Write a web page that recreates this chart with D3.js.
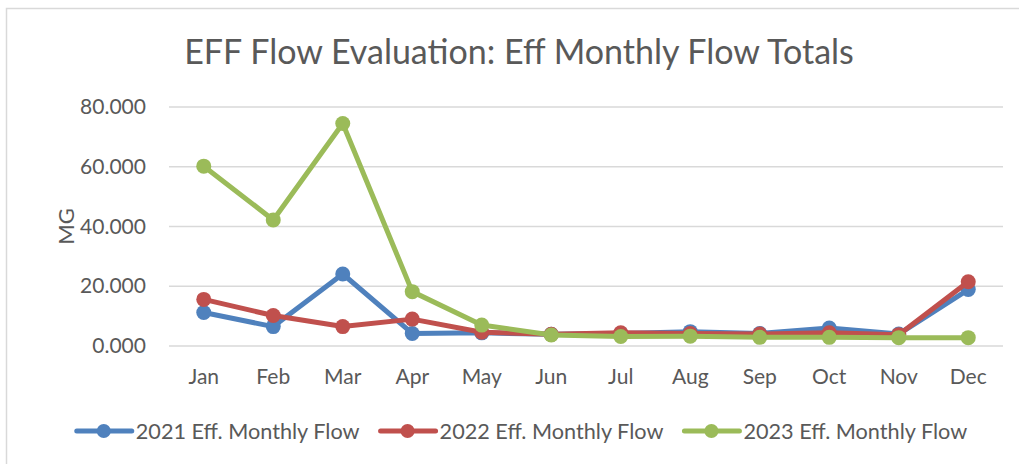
<!DOCTYPE html>
<html lang="en">
<head>
<meta charset="utf-8" />
<title>EFF Flow Evaluation</title>
<script src="https://d3js.org/d3.v7.min.js"></script>
<style>
  body { margin: 0; background: #fff; }
  svg text { font-family: Lato, "Open Sans", sans-serif; fill: #595959; }
</style>
</head>
<body>
<script>
// data
const months = ["Jan", "Feb", "Mar", "Apr", "May", "Jun", "Jul", "Aug", "Sep", "Oct", "Nov", "Dec"];
const flow2021 = [11.2, 6.5, 24.1, 4.2, 4.4, 3.9, 4.2, 4.8, 4.2, 6.0, 4.0, 18.9];
const flow2022 = [15.6, 10.2, 6.5, 9.0, 4.6, 3.9, 4.4, 4.2, 4.0, 4.4, 3.8, 21.5];
const flow2023 = [60.2, 42.2, 74.5, 18.2, 7.0, 3.7, 3.2, 3.3, 2.9, 2.9, 2.8, 2.8];
const yTicks = [0, 20, 40, 60, 80];
const seriesNames = ["2021 Eff. Monthly Flow", "2022 Eff. Monthly Flow", "2023 Eff. Monthly Flow"];
const colours = ["#4F81BD", "#C0504D", "#9BBB59"];

const series = [flow2021, flow2022, flow2023].map((vals, i) => ({
  name: seriesNames[i], colour: colours[i],
  values: vals.map((v, j) => ({ month: months[j], value: v }))
}));

const W = 1019, H = 464;
const margin = { top: 107, right: 16, bottom: 118, left: 169 };

const svg = d3.select("body").append("svg")
  .attr("width", W).attr("height", H);

// chart frame (runs off the right/bottom edge like the reference)
svg.append("rect")
  .attr("x", 6.5).attr("y", 8.5)
  .attr("width", W + 20).attr("height", H + 20)
  .attr("fill", "none").attr("stroke", "#D9D9D9").attr("stroke-width", 1.5);

// size a piece of text so that it spans a given width
function fitSize(str, target) {
  const t = svg.append("text").attr("font-size", 20).text(str);
  const w = t.node().getComputedTextLength();
  t.remove();
  return 20 * target / w;
}

const x = d3.scaleBand().domain(months)
  .range([margin.left, W - margin.right]);
const y = d3.scaleLinear().domain([0, 80])
  .range([H - margin.bottom, margin.top]);

// gridlines
svg.append("g").selectAll("line")
  .data(yTicks).join("line")
  .attr("x1", margin.left).attr("x2", W - margin.right)
  .attr("y1", d => y(d)).attr("y2", d => y(d))
  .attr("stroke", "#D9D9D9").attr("stroke-width", 1.5);

const tickSize = fitSize("80.000", 66);

// y axis
const gY = svg.append("g")
  .attr("transform", `translate(${margin.left - 23},0)`)
  .call(d3.axisLeft(y).tickValues(yTicks).tickFormat(d3.format(".3f")).tickSize(0).tickPadding(0));
gY.select(".domain").remove();
gY.selectAll("text").attr("font-size", tickSize).attr("fill", "#595959")
  .attr("font-family", null);

// x axis
const gX = svg.append("g")
  .attr("transform", `translate(0,${y(0) + 23})`)
  .call(d3.axisBottom(x).tickSize(0).tickPadding(0));
gX.select(".domain").remove();
gX.selectAll("text").attr("font-size", tickSize).attr("fill", "#595959")
  .attr("font-family", null).attr("dy", "0.7em");

// y axis title
svg.append("text")
  .attr("transform", `translate(74,${(y(0) + y(80)) / 2}) rotate(-90)`)
  .attr("text-anchor", "middle")
  .attr("font-size", tickSize + 1)
  .text("MG");

// title
const titleText = "EFF Flow Evaluation: Eff Monthly Flow Totals";
svg.append("text")
  .attr("x", 519).attr("y", 64)
  .attr("text-anchor", "middle")
  .attr("font-size", fitSize(titleText, 670))
  .text(titleText);

// lines and markers
const line = d3.line()
  .x(d => x(d.month) + x.bandwidth() / 2)
  .y(d => y(d.value));

const gSeries = svg.append("g").selectAll("g")
  .data(series).join("g");

gSeries.append("path")
  .attr("d", d => line(d.values))
  .attr("fill", "none")
  .attr("stroke", d => d.colour)
  .attr("stroke-width", 5)
  .attr("stroke-linejoin", "round")
  .attr("stroke-linecap", "round");

gSeries.selectAll("circle")
  .data(d => d.values.map(v => ({ ...v, colour: d.colour })))
  .join("circle")
  .attr("cx", d => x(d.month) + x.bandwidth() / 2)
  .attr("cy", d => y(d.value))
  .attr("r", 7.5)
  .attr("fill", d => d.colour);

// legend
const legendSize = fitSize(seriesNames[0], 224);
const legend = svg.append("g");
let lx = 0;
series.forEach((s, i) => {
  const item = legend.append("g").attr("transform", `translate(${lx},0)`);
  item.append("line")
    .attr("x1", 0).attr("x2", 55).attr("y1", 0).attr("y2", 0)
    .attr("stroke", s.colour).attr("stroke-width", 5).attr("stroke-linecap", "round");
  item.append("circle").attr("cx", 27).attr("cy", 0).attr("r", 7).attr("fill", s.colour);
  const t = item.append("text")
    .attr("x", 59).attr("y", 0).attr("dy", "0.35em")
    .attr("font-size", legendSize)
    .text(s.name);
  lx += 59 + t.node().getComputedTextLength() + 21;
});
const legendWidth = lx - 21;
legend.attr("transform", `translate(${522 - legendWidth / 2},431)`);
</script>
</body>
</html>
